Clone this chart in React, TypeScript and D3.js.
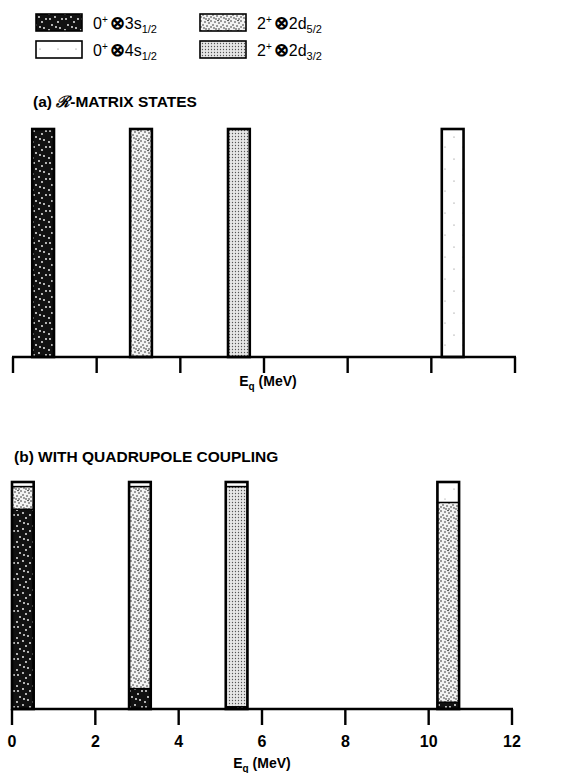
import * as d3 from 'd3';

// components, bottom to top in every stacked bar
const keys = ['s3', 'd5', 'd3', 's4'];
const legendKeys = ['s3', 's4', 'd5', 'd3'];
const legendCore = ['0', '0', '2', '2'];
const legendOrbit = ['3s', '4s', '2d', '2d'];
const legendJ = ['1/2', '1/2', '5/2', '3/2'];

const tickValues = [0, 2, 4, 6, 8, 10, 12];
const barWidth = 0.52;

// (a) R-matrix states: one pure component per state
const startA = [0.46, 2.8, 5.14, 10.25];
const compA = ['s3', 'd5', 'd3', 's4'];

// (b) with quadrupole coupling: mixed components
const startB = [0.0, 2.81, 5.13, 10.21];
const s3B = [0.88, 0.09, 0.01, 0.03];
const d5B = [0.1, 0.89, 0.0, 0.88];
const d3B = [0.0, 0.0, 0.97, 0.0];
const s4B = [0.02, 0.02, 0.02, 0.09];

const W = 569;
const H = 773;
const font = '"Liberation Sans", Arial, sans-serif';

function Patterns() {
  // fixed speckle positions for the print-like textures
  const darkDots = [
    [2, 3], [7, 1], [10, 6], [4, 9], [12, 12], [1, 14], [8, 11], [14, 3],
  ];
  const speckDots = [
    [1, 1], [5, 2], [3, 5], [7, 6], [1, 7], [6, 9], [9, 3], [9, 9], [4, 8], [8, 0.5],
  ];
  return (
    <defs>
      <pattern id="p-s3" width={16} height={16} patternUnits="userSpaceOnUse">
        <rect width={16} height={16} fill="#111" />
        {darkDots.map(([x, y], i) => (
          <circle key={i} cx={x} cy={y} r={0.9} fill="#fff" />
        ))}
      </pattern>
      <pattern id="p-d5" width={10} height={10} patternUnits="userSpaceOnUse">
        <rect width={10} height={10} fill="#f2f2f2" />
        {speckDots.map(([x, y], i) => (
          <circle key={i} cx={x} cy={y} r={0.8} fill="#2a2a2a" />
        ))}
      </pattern>
      <pattern id="p-d3" width={3} height={3} patternUnits="userSpaceOnUse">
        <rect width={3} height={3} fill="#e6e6e6" />
        <circle cx={1.5} cy={1.5} r={0.65} fill="#555" />
      </pattern>
      <pattern id="p-s4" width={18} height={22} patternUnits="userSpaceOnUse">
        <rect width={18} height={22} fill="#fff" />
        <circle cx={4} cy={5} r={0.6} fill="#777" />
        <circle cx={13} cy={15} r={0.6} fill="#888" />
      </pattern>
    </defs>
  );
}

function Axis({ x, y, labels }: { x: d3.ScaleLinear<number, number>; y: number; labels: boolean }) {
  const [x0, x1] = x.range();
  return (
    <g stroke="#000" strokeWidth={2.4}>
      <line x1={x0 - 1} x2={x1 + 1} y1={y} y2={y} />
      {tickValues.map((t) => (
        <line key={t} x1={x(t)} x2={x(t)} y1={y} y2={y + 16} />
      ))}
      {labels &&
        tickValues.map((t) => (
          <text
            key={'l' + t}
            x={x(t)}
            y={y + 38}
            textAnchor="middle"
            fontFamily={font}
            fontWeight="bold"
            fontSize={16}
            stroke="none"
            fill="#000"
          >
            {t}
          </text>
        ))}
    </g>
  );
}

function AxisTitle({ cx, y }: { cx: number; y: number }) {
  return (
    <text x={cx} y={y} textAnchor="middle" fontFamily={font} fontWeight="bold" fontSize={14}>
      E
      <tspan fontSize={10} dy={4}>q</tspan>
      <tspan dy={-4}> (MeV)</tspan>
    </text>
  );
}

export default function App() {
  // panel (a)
  const xA = d3.scaleLinear().domain([0, 12]).range([13, 515]);
  const yA = d3.scaleLinear().domain([0, 1]).range([357, 129]);
  // panel (b)
  const xB = d3.scaleLinear().domain([0, 12]).range([12, 512]);
  const yB = d3.scaleLinear().domain([0, 1]).range([709, 482]);

  const rowsB = startB.map((s, i) => ({ start: s, s3: s3B[i], d5: d5B[i], d3: d3B[i], s4: s4B[i] }));
  const stackB = d3.stack<any>().keys(keys)(rowsB);

  return (
    <svg
      width={W}
      height={H}
      viewBox={`0 0 ${W} ${H}`}
      style={{ position: 'absolute', left: 0, top: 0, background: '#fff' }}
    >
      <Patterns />

      {/* legend */}
      {legendKeys.map((k, i) => {
        const col = Math.floor(i / 2);
        const row = i % 2;
        const lx = col === 0 ? 36 : 200;
        const ly = row === 0 ? 14 : 41;
        return (
          <g key={k}>
            <rect x={lx} y={ly} width={46} height={17} fill={`url(#p-${k})`} stroke="#000" strokeWidth={1.6} />
            <text x={lx + 57} y={ly + 15} fontFamily={font} fontSize={16}>
              {legendCore[i]}
              <tspan fontSize={10} dy={-6}>+</tspan>
              <tspan dy={6} fontSize={18} fontWeight="bold" dx={2}>⊗</tspan>
              <tspan>{legendOrbit[i]}</tspan>
              <tspan fontSize={11} dy={4}>{legendJ[i]}</tspan>
            </text>
          </g>
        );
      })}

      {/* panel (a) */}
      <text x={33} y={107} fontFamily={font} fontSize={15.5} fontWeight="bold">
        (a) <tspan fontStyle="italic" fontFamily='"DejaVu Serif", serif'>ℛ</tspan>-MATRIX STATES
      </text>
      {startA.map((s, i) => (
        <rect
          key={i}
          x={xA(s)}
          y={yA(1)}
          width={xA(s + barWidth) - xA(s)}
          height={yA(0) - yA(1)}
          fill={`url(#p-${compA[i]})`}
          stroke="#000"
          strokeWidth={2.6}
        />
      ))}
      <Axis x={xA} y={357} labels={false} />
      <AxisTitle cx={268} y={386} />

      {/* panel (b) */}
      <text x={14} y={462} fontFamily={font} fontSize={15.5} fontWeight="bold">
        (b)  WITH QUADRUPOLE COUPLING
      </text>
      {stackB.map((layer) => (
        <g key={layer.key} fill={`url(#p-${layer.key})`} stroke="#000" strokeWidth={1.4}>
          {layer.map((d, i) =>
            d[1] - d[0] > 0 ? (
              <rect
                key={i}
                x={xB(rowsB[i].start)}
                y={yB(d[1])}
                width={xB(rowsB[i].start + barWidth) - xB(rowsB[i].start)}
                height={yB(d[0]) - yB(d[1])}
              />
            ) : null
          )}
        </g>
      ))}
      {rowsB.map((r, i) => (
        <rect
          key={'o' + i}
          x={xB(r.start)}
          y={yB(1)}
          width={xB(r.start + barWidth) - xB(r.start)}
          height={yB(0) - yB(1)}
          fill="none"
          stroke="#000"
          strokeWidth={2.6}
        />
      ))}
      <Axis x={xB} y={709} labels={true} />
      <AxisTitle cx={262} y={768} />
    </svg>
  );
}
